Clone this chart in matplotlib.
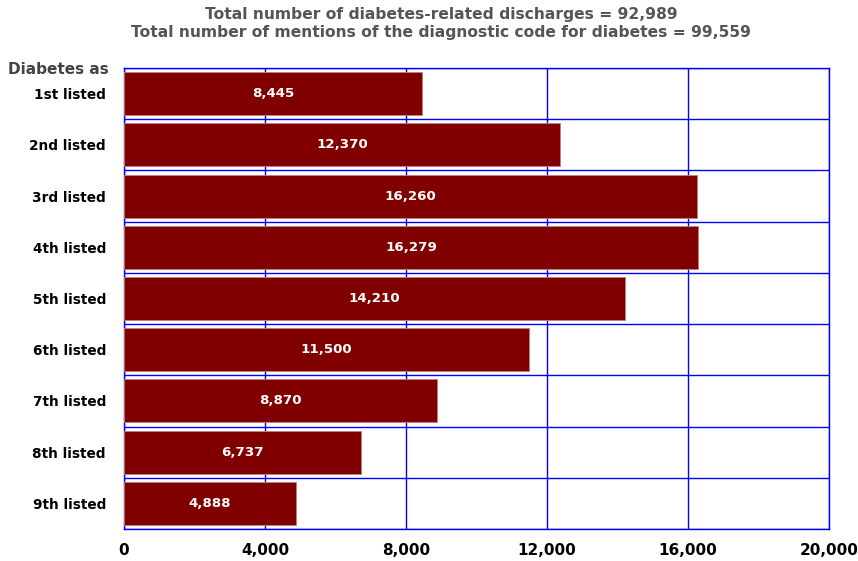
import matplotlib.pyplot as plt
from matplotlib.ticker import FuncFormatter, MultipleLocator

categories = ["1st listed", "2nd listed", "3rd listed", "4th listed", "5th listed",
              "6th listed", "7th listed", "8th listed", "9th listed"]
discharges = [8445, 12370, 16260, 16279, 14210, 11500, 8870, 6737, 4888]
xticks = [0, 4000, 8000, 12000, 16000, 20000]

title_lines = ["Total number of diabetes-related discharges = 92,989",
               "Total number of mentions of the diagnostic code for diabetes = 99,559"]

fig = plt.figure(figsize=(8.58, 5.61), dpi=100)
ax = fig.add_axes([124 / 858, 1 - 529 / 561, (829 - 124) / 858, (529 - 68) / 561])

pos = list(range(len(categories)))
ax.barh(pos, discharges, height=0.84, color="#800000", edgecolor="#c08080",
        linewidth=0.6, zorder=3)

# value labels centred in each bar
for p, v in zip(pos, discharges):
    ax.text(v / 2, p, f"{v:,}", ha="center", va="center", color="white",
            fontsize=9.6, fontweight="bold", zorder=4)

ax.set_xlim(0, 20000)
ax.set_ylim(len(categories) - 0.5, -0.5)
ax.set_xticks(xticks)
ax.xaxis.set_major_formatter(FuncFormatter(lambda x, _: f"{int(x):,}"))
ax.set_yticks(pos)
ax.set_yticklabels(categories)
ax.yaxis.set_minor_locator(MultipleLocator(1, offset=0.5))

ax.grid(axis="x", which="major", color="#0000ff", linewidth=1, zorder=1)
ax.grid(axis="y", which="minor", color="#0000ff", linewidth=1, zorder=1)
ax.tick_params(axis="y", which="both", length=0, pad=13)
ax.tick_params(axis="x", length=0, pad=10)
for lab in ax.get_yticklabels():
    lab.set_fontweight("bold")
    lab.set_fontsize(9.8)
for lab in ax.get_xticklabels():
    lab.set_fontweight("bold")
    lab.set_fontsize(11)
for s in ax.spines.values():
    s.set_color("#0000ff")
    s.set_linewidth(1)

fig.text(441 / 858, 1 - 14 / 561, title_lines[0], ha="center", va="center",
         fontsize=11.2, fontweight="bold", color="#555555")
fig.text(441 / 858, 1 - 33 / 561, title_lines[1], ha="center", va="center",
         fontsize=11.2, fontweight="bold", color="#555555")
fig.text(8 / 858, 1 - 69 / 561, "Diabetes as", ha="left", va="center",
         fontsize=11, fontweight="bold", color="#444444")

fig.savefig("out.png", dpi=100)
